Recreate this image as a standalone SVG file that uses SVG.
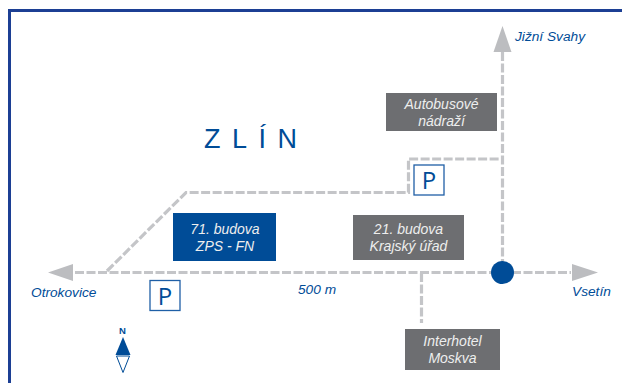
<svg xmlns="http://www.w3.org/2000/svg" width="622" height="383" viewBox="0 0 622 383">
<style>
text{font-family:"Liberation Sans",Arial,sans-serif;font-style:italic}
.b{fill:#004c97;stroke:none}
.g{fill:#6d6e71;stroke:none}
.t{fill:#eeeeee;font-size:14px;text-anchor:middle}
.l{fill:#004c97;font-size:13.700px}
.r{fill:none;stroke:#c4c5c8;stroke-width:3.200;stroke-dasharray:9 2.500}
.a{fill:#bcbdc0;stroke:none}
.pb{fill:#fff;stroke:#1f5fa6;stroke-width:1.300}
.p{fill:#004c97;font-size:24px;font-style:normal;text-anchor:middle;font-family:"Open Sans","Liberation Sans",sans-serif}
</style>
<rect width="622" height="383" fill="#fff"/>
<path d="M622 10.500H9.500V383" fill="none" stroke="#1c3f94" stroke-width="3"/>
<g id="connectors">
<path class="r" d="M75 272.500H571"/>
<path class="r" d="M107 271L186 192.500H408.500V159H502.500"/>
<path class="r" d="M502.500 52V272"/>
<path class="r" d="M421.500 273V323"/>
<polygon class="a" points="48,272.500 73,264 73,281"/>
<polygon class="a" points="598,272.500 572,264 572,281"/>
<polygon class="a" points="502.500,26 493.500,52 511.500,52"/>
</g>
<g id="junction"><circle class="b" cx="502.500" cy="272.500" r="11.500"/></g>
<g id="title"><text x="204" y="148" style="font-style:normal;font-size:27px;letter-spacing:11.500px;fill:#004c97">ZLÍN</text></g>
<g id="node-autobus"><rect class="g" x="386" y="93" width="111" height="38"/><text class="t" x="441.500" y="109">Autobusové</text><text class="t" x="441.500" y="126">nádraží</text></g>
<g id="node-71"><rect class="b" x="173" y="213" width="103" height="48"/><text class="t" x="225" y="234">71. budova</text><text class="t" x="225" y="251">ZPS - FN</text></g>
<g id="node-21"><rect class="g" x="353" y="215" width="111" height="45"/><text class="t" x="408.500" y="234">21. budova</text><text class="t" x="408.500" y="251">Krajský úřad</text></g>
<g id="node-moskva"><rect class="g" x="405" y="329" width="95" height="41"/><text class="t" x="452.500" y="346">Interhotel</text><text class="t" x="452.500" y="363">Moskva</text></g>
<g id="parking-1"><rect class="pb" x="150" y="280.500" width="30" height="30"/><text class="p" x="165" y="304.500">P</text></g>
<g id="parking-2"><rect class="pb" x="414" y="165" width="30" height="30"/><text class="p" x="429" y="189">P</text></g>
<g id="labels">
<text class="l" x="31" y="297">Otrokovice</text>
<text class="l" x="515" y="41">Jižní Svahy</text>
<text class="l" x="572" y="296">Vsetín</text>
<text class="l" x="298" y="294">500 m</text>
</g>
<g id="compass">
<text x="122.500" y="334" style="font-style:normal;font-weight:bold;font-size:9.500px;fill:#004c97;text-anchor:middle">N</text>
<polygon class="b" points="123,337 115.500,355 130.500,355"/>
<polygon points="116.500,356 129.500,356 123,372.500" fill="#fff" stroke="#004c97" stroke-width="1"/>
</g>
</svg>
